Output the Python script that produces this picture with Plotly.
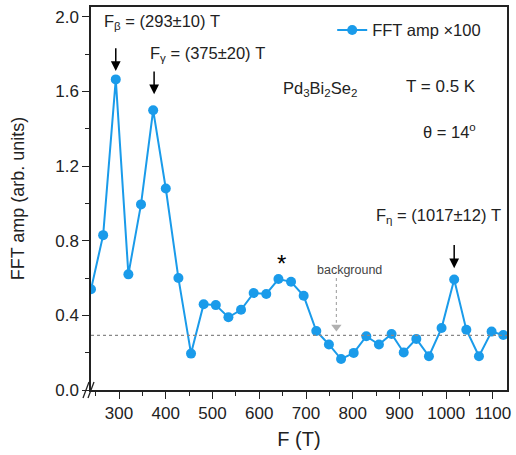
import plotly.graph_objects as go

# Data
freq = [240, 266, 293, 320, 347, 373, 400, 427, 454, 481, 507, 534, 561, 588,
        615, 641, 668, 695, 722, 749, 775, 802, 829, 856, 883, 909, 936, 963,
        990, 1017, 1043, 1070, 1097, 1122]
amp = [0.54, 0.83, 1.665, 0.62, 0.995, 1.50, 1.08, 0.60, 0.195, 0.46, 0.455, 0.39,
       0.43, 0.52, 0.515, 0.595, 0.58, 0.505, 0.316, 0.244, 0.166, 0.199, 0.288,
       0.244, 0.30, 0.201, 0.274, 0.181, 0.332, 0.592, 0.323, 0.181, 0.313, 0.295]
background_level = 0.293
background_arrow_x = 765
x_ticks = [300, 400, 500, 600, 700, 800, 900, 1000, 1100]
y_ticks = [0.0, 0.4, 0.8, 1.2, 1.6, 2.0]

BLUE = "#1A9BEA"
FONT = "Liberation Sans, Arial, sans-serif"
TXT = 16.5

fig = go.Figure()
fig.add_trace(go.Scatter(
    x=freq, y=amp, mode="lines+markers", name="FFT amp \u00d7100",
    line=dict(color=BLUE, width=2), marker=dict(color=BLUE, size=10),
))
# arrowhead of the dotted "background" arrow
fig.add_trace(go.Scatter(
    x=[background_arrow_x], y=[background_level + 0.045], mode="markers",
    marker=dict(symbol="triangle-down", size=9, color="#b0b0b0"),
    showlegend=False, hoverinfo="skip",
))

fig.update_layout(
    width=516, height=455,
    margin=dict(l=91, r=6, t=5, b=65),
    plot_bgcolor="white", paper_bgcolor="white",
    font=dict(family=FONT, size=17, color="#222"),
    showlegend=True,
    legend=dict(x=0.95, y=0.985, xanchor="right", yanchor="top",
                bgcolor="rgba(0,0,0,0)", font=dict(size=TXT)),
)
fig.update_xaxes(
    range=[240, 1130], tickvals=x_ticks, ticks="outside", ticklen=7, tickwidth=1.3,
    tickcolor="#222", showline=True, linecolor="#222", linewidth=1.5, mirror=True,
    showgrid=False, zeroline=False,
    minor=dict(dtick=50, tick0=0, ticks="outside", ticklen=4, tickcolor="#222", tickwidth=1.2),
    title=dict(text="F (T)", font=dict(size=20), standoff=10),
    tickfont=dict(size=17),
)
fig.update_yaxes(
    range=[0, 2.053], tickvals=y_ticks, ticktext=[f"{v:.1f}" for v in y_ticks],
    ticks="outside", ticklen=7, tickwidth=1.3, tickcolor="#222",
    showline=True, linecolor="#222", linewidth=1.5, mirror=True,
    showgrid=False, zeroline=False,
    minor=dict(dtick=0.2, tick0=0, ticks="outside", ticklen=4, tickcolor="#222", tickwidth=1.2),
    title=dict(text="FFT amp (arb. units)", font=dict(size=18), standoff=26),
    tickfont=dict(size=17),
)

# background dotted line
fig.add_shape(type="line", xref="paper", x0=0, x1=1, yref="y",
              y0=background_level, y1=background_level,
              line=dict(color="#888", width=1.2, dash="dot"))
# background dotted arrow shaft
fig.add_shape(type="line", xref="x", x0=background_arrow_x, x1=background_arrow_x,
              yref="y", y0=0.60, y1=0.36,
              line=dict(color="#aaa", width=1.2, dash="dot"))
fig.add_annotation(x=794, y=0.645, text="background", showarrow=False,
                   font=dict(size=12.5, color="#444"))

# axis break mark
for dx in (-5, 0):
    fig.add_shape(type="line", xref="paper", xsizemode="pixel", xanchor=0,
                  x0=dx - 3, x1=dx + 3, yref="paper", ysizemode="pixel", yanchor=0,
                  y0=-8, y1=8, line=dict(color="#222", width=1.3))

# peak arrows
for (xa, y_from, y_to) in [(293, 1.84, 1.71), (375, 1.715, 1.585), (1017, 0.785, 0.652)]:
    fig.add_annotation(x=xa, y=y_to, ax=xa, ay=y_from, axref="x", ayref="y",
                       xref="x", yref="y", showarrow=True, arrowhead=2,
                       arrowsize=1.3, arrowwidth=1.5, arrowcolor="black", text="")

# text labels
fig.add_annotation(x=263, y=1.975, text="F<sub>\u03b2</sub> = (293\u00b110) T",
                   showarrow=False, xanchor="left", font=dict(size=TXT))
fig.add_annotation(x=361, y=1.80, text="F<sub>\u03b3</sub> = (375\u00b120) T",
                   showarrow=False, xanchor="left", font=dict(size=TXT))
fig.add_annotation(x=646, y=1.616, text="Pd<sub>3</sub>Bi<sub>2</sub>Se<sub>2</sub>",
                   showarrow=False, xanchor="left", font=dict(size=TXT))
fig.add_annotation(x=1068, y=1.627, text="T = 0.5 K",
                   showarrow=False, xanchor="right", font=dict(size=17))
fig.add_annotation(x=1068, y=1.387, text="\u03b8 = 14<sup>o</sup>",
                   showarrow=False, xanchor="right", font=dict(size=TXT))
fig.add_annotation(x=1122, y=0.933, text="F<sub>\u03b7</sub> = (1017\u00b112) T",
                   showarrow=False, xanchor="right", font=dict(size=TXT))
fig.add_annotation(x=647, y=0.68, text="*", showarrow=False,
                   font=dict(size=24, color="black"))

fig.write_html("out.html")
